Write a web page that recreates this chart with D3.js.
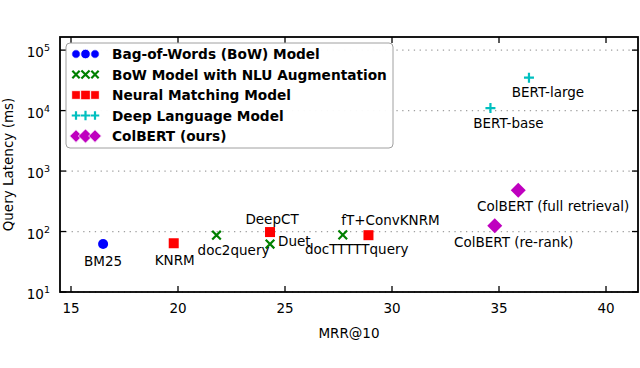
<!DOCTYPE html>
<html>
<head>
<meta charset="utf-8">
<script src="https://cdn.jsdelivr.net/npm/d3@7"></script>
<style>
  html, body { margin: 0; padding: 0; background: #fff; }
  svg { display: block; font-family: "DejaVu Sans", sans-serif; }
</style>
</head>
<body>
<svg id="chart" width="640" height="368"></svg>
<script>
// ---------------- data ----------------
const groups = ["bow", "nlu", "neural", "deep", "colbert"];
const groupLabels = [
  "Bag-of-Words (BoW) Model",
  "BoW Model with NLU Augmentation",
  "Neural Matching Model",
  "Deep Language Model",
  "ColBERT (ours)"
];
const modelNames = ["BM25", "KNRM", "doc2query", "DeepCT", "Duet", "docTTTTTquery",
  "fT+ConvKNRM", "BERT-base", "BERT-large", "ColBERT (re-rank)", "ColBERT (full retrieval)"];
const modelGroups = ["bow", "neural", "nlu", "nlu", "neural", "nlu",
  "neural", "deep", "deep", "colbert", "colbert"];
const mrr = [16.5, 19.8, 21.8, 24.3, 24.3, 27.7, 28.9, 34.6, 36.4, 34.8, 35.9];
const latency = [62, 64, 87, 62, 98, 88, 87, 11000, 35000, 125, 480];
const xTicks = [15, 20, 25, 30, 35, 40];
const yTicks = [1, 2, 3, 4, 5]; // exponents of 10

// ---------------- layout / style ----------------
const W = 640, H = 368;
const plot = { left: 60, right: 638, top: 37, bottom: 292 };
const colors = { bow: "#0000ff", nlu: "#008000", neural: "#ff0000", deep: "#00bfbf", colbert: "#bf00bf" };
const labelPos = {
  "BM25": [0, 22, "middle"],
  "KNRM": [1, 22, "middle"],
  "doc2query": [17, 20, "middle"],
  "DeepCT": [2, -20, "middle"],
  "Duet": [8, 14, "start"],
  "docTTTTTquery": [14, 19, "middle"],
  "fT+ConvKNRM": [22, -10, "middle"],
  "BERT-base": [18, 20, "middle"],
  "BERT-large": [19, 19, "middle"],
  "ColBERT (re-rank)": [19, 21, "middle"],
  "ColBERT (full retrieval)": [35, 21, "middle"]
};

const svg = d3.select("#chart");
const x = d3.scaleLinear().domain([14.486, 41.495]).range([plot.left, plot.right]);
const y = d3.scaleLog().domain([10, Math.pow(10, 5.217)]).range([plot.bottom, plot.top]);

// grid lines
svg.append("g").selectAll("line").data(yTicks).join("line")
  .attr("x1", plot.left).attr("x2", plot.right)
  .attr("y1", d => y(Math.pow(10, d))).attr("y2", d => y(Math.pow(10, d)))
  .attr("stroke", "#a0a0a0").attr("stroke-width", 1.3)
  .attr("stroke-dasharray", "1.3,4.5");

// symbol shapes
function drawMarker(g, group, cx, cy, s, legend) {
  const c = colors[group];
  const edge = legend ? "#fff" : "none";
  const ew = legend ? 0.8 : 0;
  if (group === "bow") {
    g.append("circle").attr("cx", cx).attr("cy", cy).attr("r", 5 * s)
      .attr("fill", c).attr("stroke", edge).attr("stroke-width", ew);
  } else if (group === "neural") {
    g.append("rect").attr("x", cx - 5 * s).attr("y", cy - 5 * s)
      .attr("width", 10 * s).attr("height", 10 * s)
      .attr("fill", c).attr("stroke", edge).attr("stroke-width", ew);
  } else if (group === "colbert") {
    const r = 7.5 * s;
    g.append("path").attr("d", `M${cx},${cy - r}L${cx + r},${cy}L${cx},${cy + r}L${cx - r},${cy}Z`)
      .attr("fill", c).attr("stroke", edge).attr("stroke-width", ew);
  } else if (group === "nlu") {
    const r = 4.3 * s;
    g.append("path").attr("d", `M${cx - r},${cy - r}L${cx + r},${cy + r}M${cx - r},${cy + r}L${cx + r},${cy - r}`)
      .attr("stroke", c).attr("stroke-width", 2.2).attr("fill", "none");
  } else if (group === "deep") {
    const r = 5 * s;
    g.append("path").attr("d", `M${cx - r},${cy}L${cx + r},${cy}M${cx},${cy - r}L${cx},${cy + r}`)
      .attr("stroke", c).attr("stroke-width", 2.2).attr("fill", "none");
  }
}

// points
const pts = svg.append("g");
modelNames.forEach((name, i) => {
  drawMarker(pts, modelGroups[i], x(mrr[i]), y(latency[i]), 1, false);
});

// point labels
const lbl = svg.append("g").attr("font-size", "13.5px").attr("fill", "#000");
modelNames.forEach((name, i) => {
  const p = labelPos[name];
  lbl.append("text")
    .attr("x", x(mrr[i]) + p[0]).attr("y", y(latency[i]) + p[1])
    .attr("text-anchor", p[2]).text(name);
});

// frame
svg.append("rect").attr("x", plot.left).attr("y", plot.top)
  .attr("width", plot.right - plot.left).attr("height", plot.bottom - plot.top)
  .attr("fill", "none").attr("stroke", "#000").attr("stroke-width", 1.8);

// ticks (inward, all four sides)
const tl = 6;
const tg = svg.append("g").attr("stroke", "#000").attr("stroke-width", 1.3);
xTicks.forEach(t => {
  tg.append("line").attr("x1", x(t)).attr("x2", x(t)).attr("y1", plot.bottom).attr("y2", plot.bottom - tl);
  tg.append("line").attr("x1", x(t)).attr("x2", x(t)).attr("y1", plot.top).attr("y2", plot.top + tl);
});
yTicks.forEach(e => {
  const yy = y(Math.pow(10, e));
  tg.append("line").attr("x1", plot.left).attr("x2", plot.left + tl).attr("y1", yy).attr("y2", yy);
  tg.append("line").attr("x1", plot.right).attr("x2", plot.right - tl).attr("y1", yy).attr("y2", yy);
});

// x tick labels
svg.append("g").attr("font-size", "13.5px").selectAll("text").data(xTicks).join("text")
  .attr("x", d => x(d)).attr("y", 313).attr("text-anchor", "middle").text(d => d);

// y tick labels
const yl = svg.append("g").attr("font-size", "13.5px");
yTicks.forEach(e => {
  const t = yl.append("text").attr("x", 50).attr("y", y(Math.pow(10, e)) + 7).attr("text-anchor", "end");
  t.append("tspan").text("10");
  t.append("tspan").attr("dy", -6).attr("font-size", "9.5px").text(e);
});

// axis titles
svg.append("text").attr("x", (plot.left + plot.right) / 2).attr("y", 338)
  .attr("text-anchor", "middle").attr("font-size", "13.5px").text("MRR@10");
svg.append("text").attr("transform", `translate(13,${(plot.top + plot.bottom) / 2}) rotate(-90)`)
  .attr("text-anchor", "middle").attr("font-size", "13.5px").text("Query Latency (ms)");

// legend
const lg = svg.append("g");
lg.append("rect").attr("x", 66).attr("y", 43).attr("width", 327).attr("height", 105).attr("rx", 4)
  .attr("fill", "#fff").attr("fill-opacity", 0.95).attr("stroke", "#a0a0a0").attr("stroke-width", 1);
const rowY = [54, 74.5, 95, 115.5, 136];
groups.forEach((g, i) => {
  [76, 85.5, 95].forEach((mx, k) => {
    drawMarker(lg, g, mx, rowY[i], k === 1 ? 0.95 : 0.85, true);
  });
  lg.append("text").attr("x", 112).attr("y", rowY[i] + 5)
    .attr("font-size", "13.7px").attr("font-weight", "bold").text(groupLabels[i]);
});
</script>
</body>
</html>
